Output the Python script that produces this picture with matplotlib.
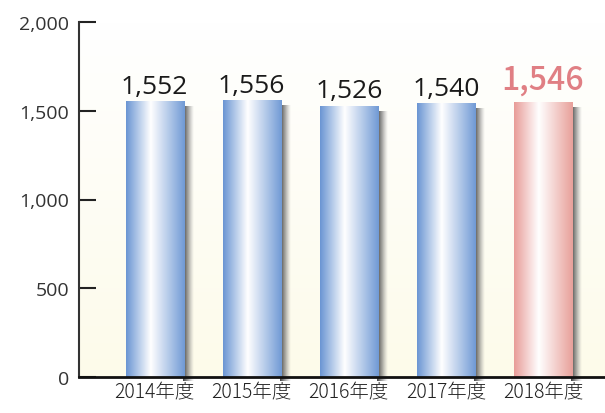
'''
Bar chart of yearly values with gradient bars
'''
import matplotlib
matplotlib.use('Agg')
import matplotlib.pyplot as plt
import numpy as np
from matplotlib.colors import LinearSegmentedColormap

plt.rcParams['font.family'] = ['Noto Sans CJK JP', 'DejaVu Sans']
NUM_FONT = ['Open Sans', 'Noto Sans CJK JP']

years = ['2014年度', '2015年度', '2016年度', '2017年度', '2018年度']
values = [1552, 1556, 1526, 1540, 1546]
value_labels = ['1,552', '1,556', '1,526', '1,540', '1,546']
yticks = [0, 500, 1000, 1500, 2000]
ytick_labels = ['0', '500', '1,000', '1,500', '2,000']

fig = plt.figure(figsize=(6.05, 4.14), dpi=100)
ax = fig.add_axes([79 / 605, 36 / 414, 1 - 79 / 605, 355 / 414])
ax.set_xlim(-0.78, 4.64)
ax.set_ylim(0, 2000)

# Background: white at top fading to pale cream at bottom
bg = LinearSegmentedColormap.from_list('bg', ['#fdfbea', '#ffffff'])
ax.imshow(np.linspace(0, 1, 256).reshape(-1, 1), cmap=bg, aspect='auto',
          extent=[-0.78, 4.64, 0, 2000], origin='lower', zorder=0)

blue = LinearSegmentedColormap.from_list(
    'blue', [(0, '#6a95d3'), (0.42, '#ffffff'), (1, '#7099d5')])
pink = LinearSegmentedColormap.from_list(
    'pink', [(0, '#e89c98'), (0.42, '#ffffff'), (1, '#e8a09a')])
shadow = LinearSegmentedColormap.from_list(
    'shadow', [(0, (0.2, 0.2, 0.2, 0.95)), (0.5, (0.4, 0.4, 0.4, 0.55)),
               (1, (0.6, 0.6, 0.6, 0.0))])

width = 0.6
grad = np.linspace(0, 1, 256).reshape(1, -1)
for i, v in enumerate(values):
    cmap = pink if i == len(values) - 1 else blue
    x0 = i - width / 2
    x1 = i + width / 2
    # shadow on the right side, spilling a little below the axis
    sh = ax.imshow(grad, cmap=shadow, aspect='auto',
                   extent=[x1 - 0.01, x1 + 0.1, -20, v - 25], zorder=1)
    sh.set_clip_on(False)
    ax.imshow(grad, cmap=cmap, aspect='auto',
              extent=[x0, x1, 0, v], zorder=2)
    if i == len(values) - 1:
        ax.annotate(value_labels[i], (i, v), xytext=(0, 5),
                    textcoords='offset points', ha='center', va='bottom',
                    fontsize=23, fontweight='medium', color='#e07f84')
    else:
        ax.annotate(value_labels[i], (i, v), xytext=(0, 2),
                    textcoords='offset points', ha='center', va='bottom',
                    fontsize=19, color='#1a1a1a', family=NUM_FONT)

ax.set_xticks(range(len(years)))
ax.set_xticklabels(years, fontsize=14, fontweight='light', color='#222222')
ax.tick_params(axis='x', length=0, pad=3)
ax.set_yticks(yticks)
ax.set_yticklabels(ytick_labels, fontsize=14, color='#333333',
                   family=NUM_FONT)
ax.tick_params(axis='y', direction='in', length=12, width=1.5, pad=7,
               color='#222222')

for s in ['top', 'right']:
    ax.spines[s].set_visible(False)
ax.spines['left'].set_linewidth(1.5)
ax.spines['left'].set_color('#333333')
ax.spines['bottom'].set_linewidth(2)
ax.spines['bottom'].set_color('#111111')
ax.spines['bottom'].set_zorder(3)

fig.savefig('out.png', dpi=100)
